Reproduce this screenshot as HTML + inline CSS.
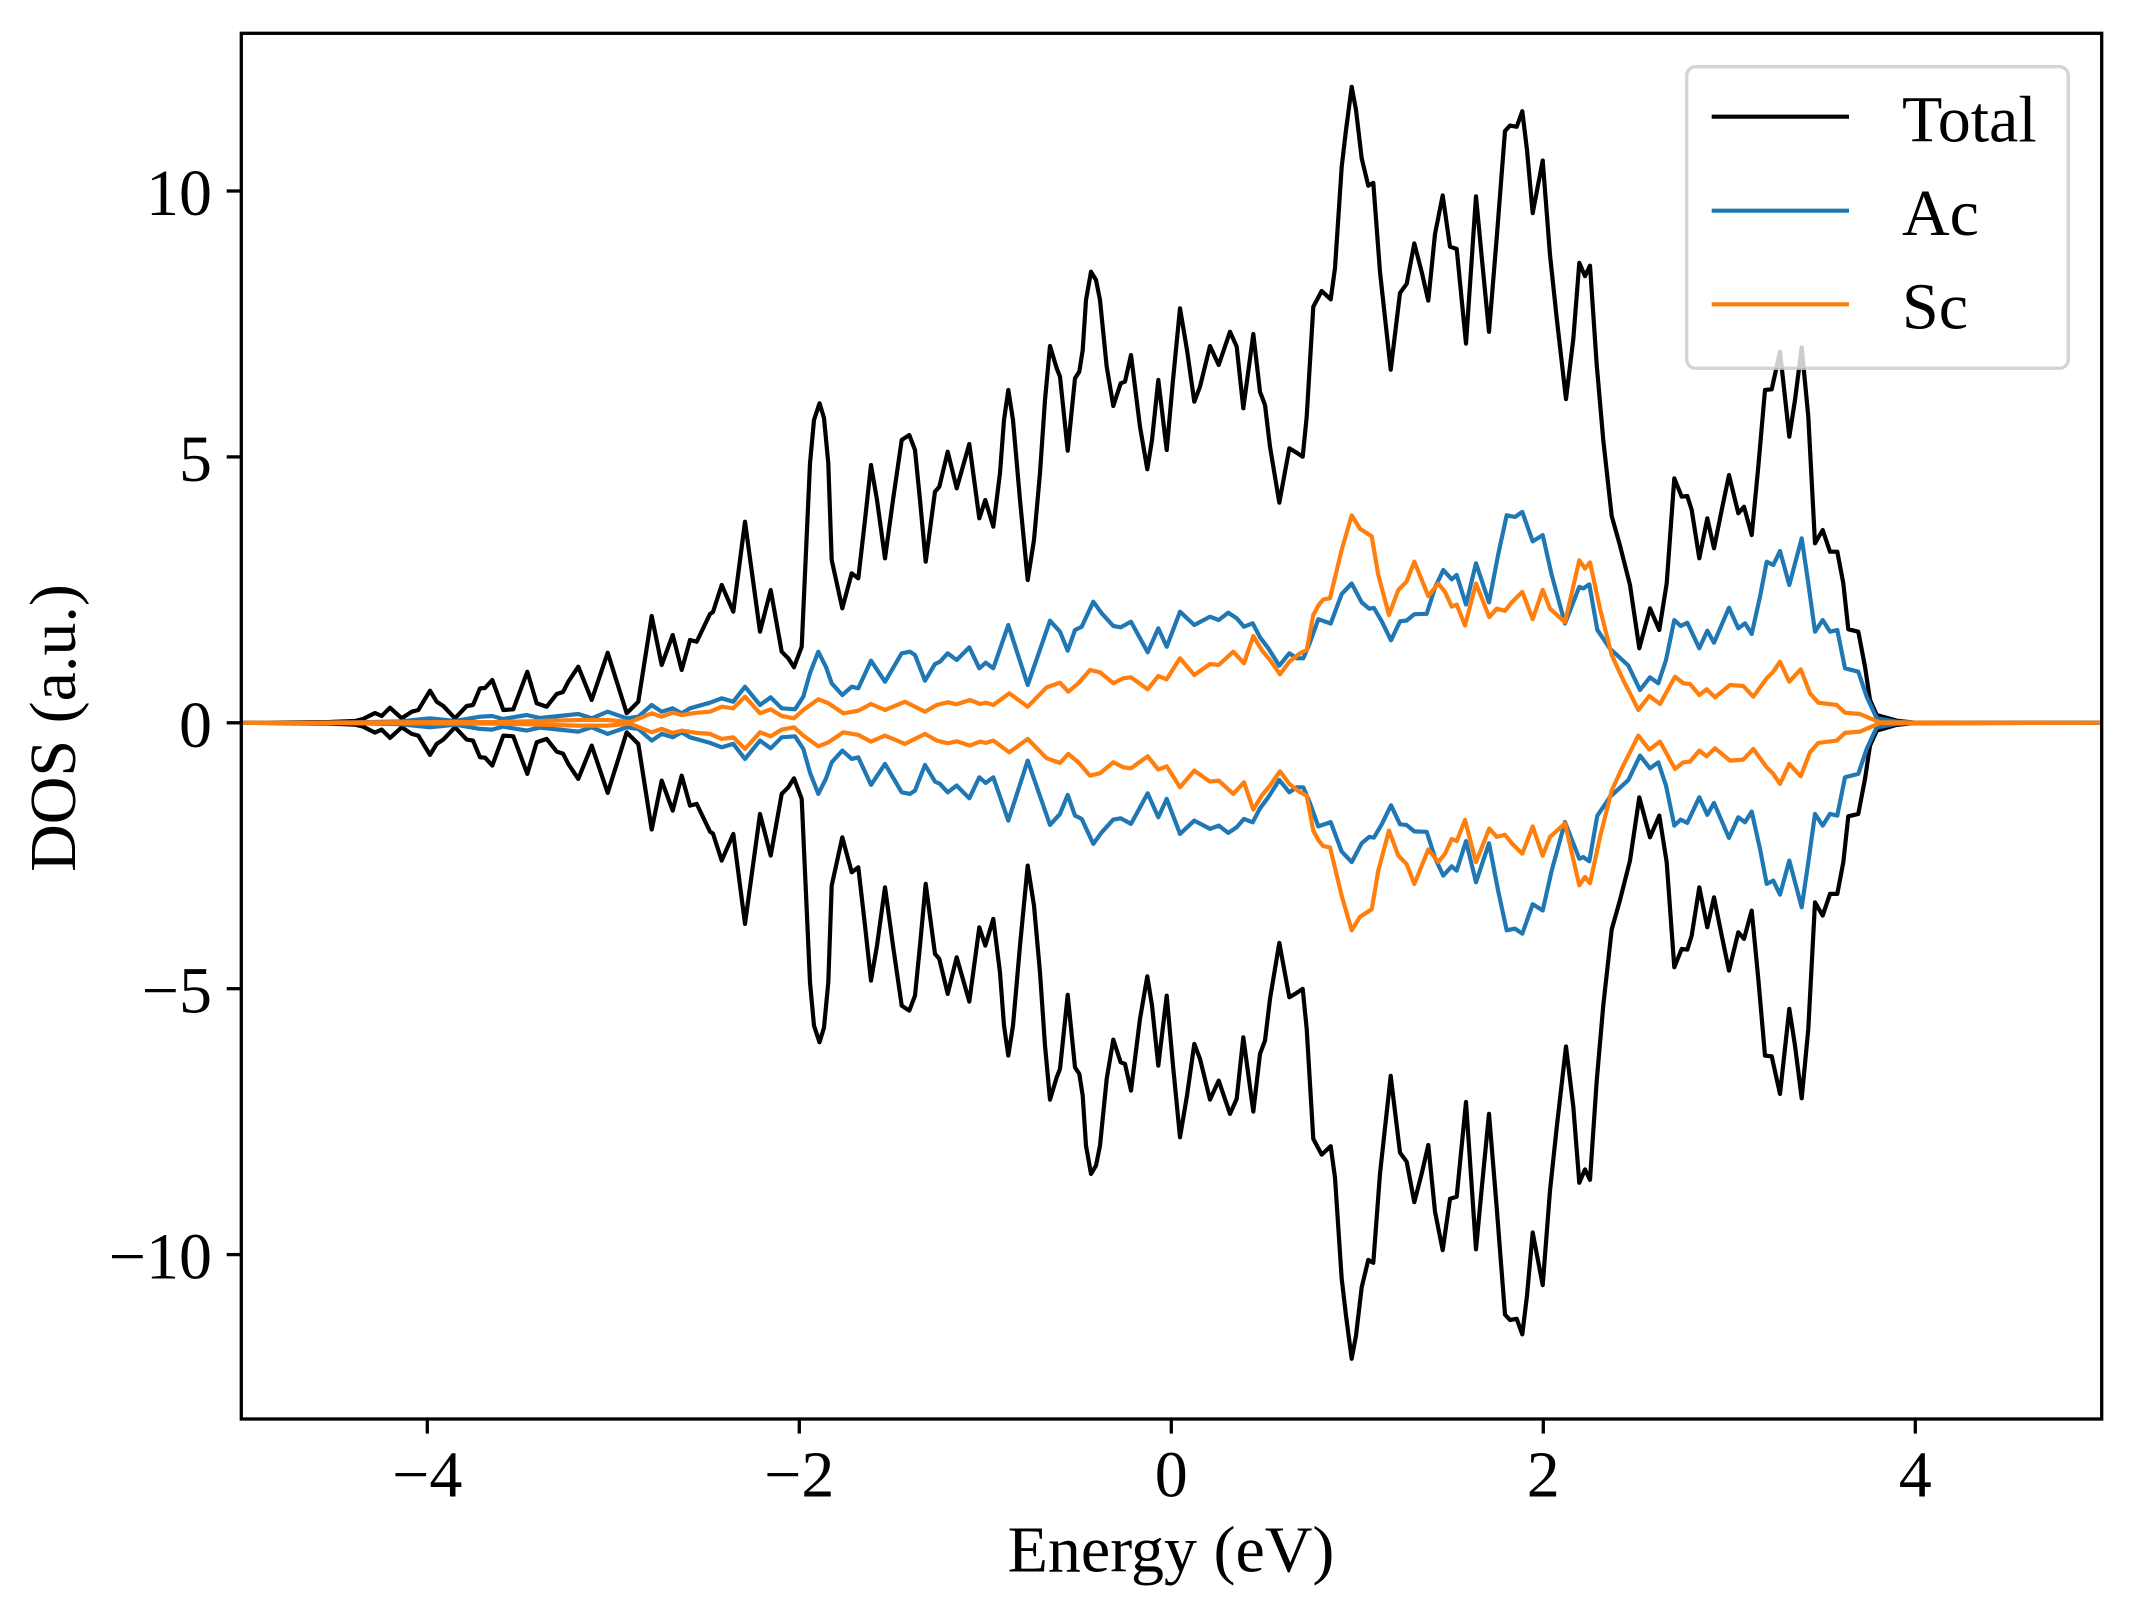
<!DOCTYPE html>
<html>
<head>
<meta charset="utf-8">
<style>
html,body{margin:0;padding:0;background:#fff;}
svg{display:block;}
text{font-family:"Liberation Serif","Times New Roman",serif;fill:#000;}
</style>
</head>
<body>
<svg width="2134" height="1617" viewBox="0 0 2134 1617" xmlns="http://www.w3.org/2000/svg">
<rect x="0" y="0" width="2134" height="1617" fill="#fff"/>
<defs>
<clipPath id="ax"><rect x="241.3" y="33.3" width="1860.4" height="1385.7"/></clipPath>
<polyline id="tot" fill="none" stroke="#000" stroke-width="4.2" stroke-linejoin="round" stroke-linecap="round" points="241,722.8 330,722 355,721 363,719 375,713 381.7,716 390,707.7 401.7,718.3 411.7,711.7 418.3,710 430,690.7 436.7,701.7 443.3,706 455,718.3 466.7,706 473,705 480,688.3 485,688 492.3,680 503.3,710 513.3,709.3 527.3,671.7 536.7,703.3 546.7,706.7 556.7,694 563,692 568.3,681.7 578.3,666.7 591.7,700 607.7,652.7 626.7,713.3 638.3,701.7 651.7,616 661.7,665 672.7,635 681.7,670 690,640 696.7,641.7 710,614 713,612 721.7,585 733.3,611.7 745,521.7 760,631.7 770.7,590 781.7,651.7 788.3,658.3 794,667.3 801.7,646.7 810,463.3 814,420 819.5,403.3 824,418 828.3,463.3 831.7,560 842.3,608.3 851.7,573.3 858.3,578.3 865,520 871,465 877,500 885,558.3 893,500 901.7,440 909.3,435 915,450 920,500 925.7,561.7 935,491.7 939.3,486.7 947.7,451.7 956.7,488.3 969.3,444 979.3,518.3 985.3,500 993.3,526.7 1000,473 1004,420 1008.3,390 1013,420 1020,500 1027.7,580 1034,540 1040,473 1045,400 1050,346 1056.7,368.3 1060,376.7 1067.7,450.7 1075,378.3 1079.3,371.7 1082.7,350 1086,300 1091,271.7 1096,280 1100,300 1106.7,366.7 1113.3,406 1120.7,383.3 1125,381.7 1131,355 1140,426.7 1147.3,469.3 1152,440 1158.3,380 1166.7,450 1173,380 1180,308.3 1187,350 1194.3,401.7 1200,386.7 1210,346 1218.7,365 1230,331.7 1236.7,346.7 1243.3,408.3 1253.3,334 1260,391.7 1265,405 1270,446.7 1279.3,502.7 1289.3,448.3 1296.7,452.7 1302.7,456.7 1306.7,416.7 1313.3,306.7 1321.7,291 1330.7,299.4 1335,268 1341.7,166.8 1346,130 1351.7,86.8 1356,110 1361.7,158.4 1368.3,185.7 1373.3,182.8 1380,272 1390.7,369.7 1400,293 1406.7,283.8 1414.3,243.4 1421.7,272 1428.3,300.6 1435,234 1442.7,195.4 1450,246.8 1456.7,248.9 1466,343.6 1471,270 1476,196.3 1482,260 1489,331.8 1496.7,238 1505,131 1510,125.6 1516.7,126.8 1522.3,111.2 1527,150 1532.7,213.1 1542.7,160.5 1550,255 1556.7,318 1566,399.1 1573.3,339 1579.3,262.8 1585,276.2 1590,265.7 1596.7,364.6 1603.3,440.4 1611.7,516.1 1620,545.6 1630,585 1639.3,648.3 1650,608.3 1659.3,630 1666.7,583.3 1674.3,478.3 1681.7,496.7 1687.3,496 1691.7,510 1699.3,558.3 1707.3,518.3 1714,548.3 1721.7,510 1729,475 1738.3,513.3 1744,506.7 1751.7,535 1758.3,466.7 1765,390 1771.7,389.3 1780,351.7 1789.3,436.7 1795,400 1801.7,347.3 1808.3,416.7 1815,543.3 1822.7,530 1830,551.7 1837.3,551.7 1843.3,583.3 1848.3,629.3 1858.3,631.7 1865,666.7 1870,700 1876.7,715 1896.7,720.7 1913,722.5 2102,722.8"/>
<polyline id="ac" fill="none" stroke="#1f77b4" stroke-width="4.2" stroke-linejoin="round" stroke-linecap="round" points="241,722.8 350,722.5 400,721.5 430,718.3 455,721 480,716.7 492,716 503,719 526.7,715 540,718 578.3,714 591.7,718.3 607.7,711.7 626.7,718.3 638.3,716.7 651.7,705 661.7,711.7 672.7,708.3 681.7,713.3 690,708.3 710,702.7 721.7,698.3 733.3,701.7 745,686.7 760,705 770.7,697.3 781.7,708.3 795,709.3 803.3,696.7 810,673 818.3,651.7 826,667 831.7,683.3 842.3,695 851.7,686.7 858.3,688.3 871,660.7 885,681.7 901.7,653.3 910,651.7 915,655 925,680.7 935,664 940,661.7 947.7,653.3 956.7,660 969.3,647.3 979.3,668.3 985.7,662.7 993.3,668.3 1008.3,625 1027.7,685 1050,620.7 1060,631.7 1067.7,650.7 1075,630 1081.7,626.7 1093.3,601.7 1101.7,613.3 1113.3,626 1120.7,627.3 1131,621.7 1147.7,652.3 1158.3,628.3 1166.7,646.7 1180,611.7 1194.3,625 1210,616.7 1218.7,620 1228.3,612.7 1236.7,618.3 1244,626.7 1252.7,623.3 1260,637.3 1268.3,648.3 1279.3,665.7 1289.3,653.3 1296.7,658.3 1303.3,658.3 1310,642.4 1318.3,619.2 1330.7,623.5 1341.7,594 1351.7,583.5 1361.7,602.4 1369.3,608.7 1374,608 1381.7,621.3 1391,640.3 1400,621.3 1406.7,620.5 1414.3,614.2 1426.7,613.8 1435,587.7 1443.3,570 1451.7,579.3 1456.7,575 1466,604.5 1476,563.3 1489,602.4 1498.3,554 1506.7,515.3 1515,517 1522.3,511.9 1532.7,541.4 1542.7,535.1 1551.7,575 1565,623.5 1579.3,586.8 1583.3,588.5 1589.3,584.3 1597.3,629.8 1610,648.7 1628.3,665.5 1640,690 1650,677.3 1658.3,683.3 1666,660 1674.3,620 1680.7,626 1687.3,622.7 1699.3,648.3 1707.3,630.7 1714,642.7 1729,607.7 1738.3,628.3 1745,623.3 1751.7,634 1760,596.7 1766.7,561.7 1773.3,565 1780,551 1789.3,585 1801.7,538.3 1808.3,583.3 1815,631.7 1822.7,620 1830,631.7 1837.3,630 1845,668.3 1858.3,671.7 1866.7,696.7 1876.7,718.3 1896.7,721.7 1913,722.5 2102,722.8"/>
<polyline id="sc" fill="none" stroke="#ff7f0e" stroke-width="4.2" stroke-linejoin="round" stroke-linecap="round" points="241,722.8 500,722 578,720 607.7,720 630,722 651.7,713.3 661.7,716.7 672.7,712.7 681.7,715 696.7,712.7 710,711.7 721.7,706.7 733.3,708.3 745,696.7 760,713.3 770.7,709.3 781.7,716 794,718.3 803.3,710 818.3,699.3 828,703 843.3,713.3 858.3,710.7 871,704 885,710 905,701.7 925,711.7 936.7,705 947.7,702.3 956.7,704.3 970,700 980,704 986,702.7 993.3,705 1009.3,693.3 1027.7,706.7 1046.7,687.3 1060,682.7 1068.3,691.7 1078.3,683.3 1090,670 1100,672.3 1113.3,683.3 1123.3,678.3 1131,677.3 1147.7,689.3 1158.3,676 1166.7,679.3 1180,658.3 1194.3,675 1210,664 1218.7,665 1233.3,651.7 1244,663.3 1253.3,636 1261.7,650 1270,660 1280,674.3 1289.3,661.7 1300,653.3 1306.7,650 1313.3,615 1318.7,605 1323.3,599.5 1330,598.2 1341.7,549.8 1351.7,515.3 1360,528.8 1371.7,536.3 1378.3,575 1389,615 1398.3,590 1406.7,581.4 1414.3,561.6 1428.3,596.1 1438.3,583.5 1445,591.9 1451.7,606.6 1456.7,604.5 1465,625.6 1476,583.5 1489.3,617.1 1496.7,608.7 1505,610.8 1511.7,602.4 1522.3,591.9 1532.7,619.2 1542.7,589.8 1550,608.7 1565,622.2 1579.3,560.3 1585,568.6 1590,562.4 1600,608.7 1611.7,655 1623.3,680.3 1630,693.3 1638.3,710 1649.3,696 1660,704 1675,676.7 1683.3,683.3 1690,684 1699.3,695 1706.7,689.3 1715,697.3 1730,685 1743.3,686 1753.3,696.7 1766.7,678.3 1773.3,671.7 1780,661.7 1789.3,681.7 1800.7,669.3 1810,693.3 1818.3,702.7 1836.7,705 1845,712.7 1860,714 1870,718.3 1880,722.5 2102,722.8"/>
</defs>

<g clip-path="url(#ax)">
  <use href="#tot"/>
  <use href="#ac"/>
  <use href="#sc"/>
  <g transform="matrix(1,0,0,-1,0,1445.6)">
    <use href="#tot"/>
    <use href="#ac"/>
    <use href="#sc"/>
  </g>
</g>

<!-- legend -->
<rect x="1686.7" y="66.7" width="381.6" height="301.6" rx="9" ry="9" fill="#fff" fill-opacity="0.8" stroke="#cccccc" stroke-opacity="0.85" stroke-width="3.3"/>
<line x1="1711.7" y1="116.7" x2="1849" y2="116.7" stroke="#000" stroke-width="4.2"/>
<line x1="1711.7" y1="210.7" x2="1849" y2="210.7" stroke="#1f77b4" stroke-width="4.2"/>
<line x1="1711.7" y1="304.3" x2="1849" y2="304.3" stroke="#ff7f0e" stroke-width="4.2"/>
<text x="1902" y="141.7" font-size="66">Total</text>
<text x="1902" y="235" font-size="66">Ac</text>
<text x="1902" y="328.3" font-size="66">Sc</text>

<!-- axes frame -->
<rect x="241.3" y="33.3" width="1860.4" height="1385.7" fill="none" stroke="#000" stroke-width="3.3"/>

<!-- x ticks -->
<g stroke="#000" stroke-width="3.3">
  <line x1="427.3" y1="1419" x2="427.3" y2="1433.6"/>
  <line x1="799.3" y1="1419" x2="799.3" y2="1433.6"/>
  <line x1="1171.3" y1="1419" x2="1171.3" y2="1433.6"/>
  <line x1="1543.3" y1="1419" x2="1543.3" y2="1433.6"/>
  <line x1="1915.3" y1="1419" x2="1915.3" y2="1433.6"/>
</g>
<g font-size="66" text-anchor="middle">
  <text x="427.3" y="1496.5">−4</text>
  <text x="799.3" y="1496.5">−2</text>
  <text x="1171.3" y="1496.5">0</text>
  <text x="1543.3" y="1496.5">2</text>
  <text x="1915.3" y="1496.5">4</text>
</g>

<!-- y ticks -->
<g stroke="#000" stroke-width="3.3">
  <line x1="226.7" y1="191" x2="241.3" y2="191"/>
  <line x1="226.7" y1="456.9" x2="241.3" y2="456.9"/>
  <line x1="226.7" y1="722.8" x2="241.3" y2="722.8"/>
  <line x1="226.7" y1="988.7" x2="241.3" y2="988.7"/>
  <line x1="226.7" y1="1254.6" x2="241.3" y2="1254.6"/>
</g>
<g font-size="66" text-anchor="end">
  <text x="212" y="215">10</text>
  <text x="212" y="480.9">5</text>
  <text x="212" y="746.8">0</text>
  <text x="212" y="1012.7">−5</text>
  <text x="212" y="1278.6">−10</text>
</g>

<!-- axis labels -->
<text x="1171" y="1571.7" font-size="66" text-anchor="middle">Energy (eV)</text>
<text transform="translate(75,728) rotate(-90)" font-size="66" text-anchor="middle">DOS (a.u.)</text>
</svg>
</body>
</html>
